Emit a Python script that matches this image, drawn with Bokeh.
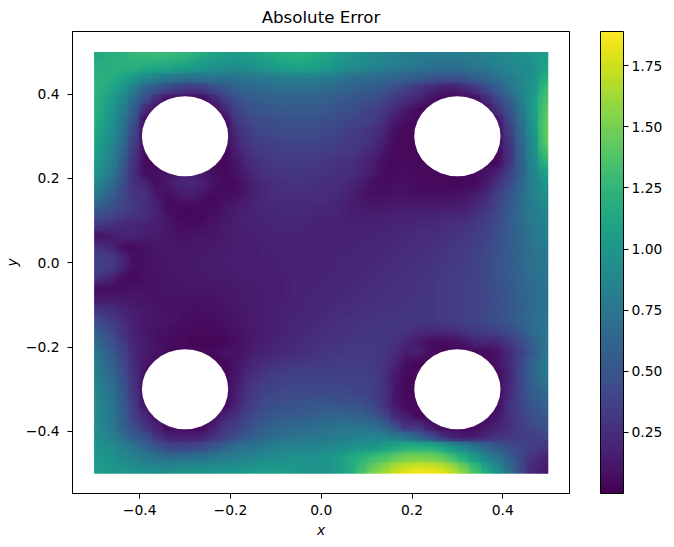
import numpy as np
from bokeh.plotting import figure
from bokeh.models import ColorBar, LinearColorMapper, FixedTicker, Range1d
from bokeh.palettes import Viridis256
from bokeh.embed import file_html
from bokeh.resources import INLINE

F = "DejaVu Sans"
# Absolute error * 100: rows from y=0.4875 to y=-0.4875, columns from x=-0.4875 to x=0.4875
rows = [
[112,118,122,126,128,130,130,128,124,118,112,108,106,108,112,116,120,122,122,118,112,106,100,96,92,90,86,84,82,80,80,80,82,84,86,90,92,95,100,106],
[118,120,120,120,116,114,112,108,104,100,96,94,92,94,98,102,106,108,108,106,102,96,92,88,84,82,78,76,72,70,68,68,70,74,76,82,86,90,94,112],
[122,118,110,100,90,82,76,72,70,70,72,72,72,74,76,78,80,82,82,80,78,74,70,66,66,64,60,58,54,50,46,46,50,56,62,70,78,86,94,122],
[124,112,98,80,60,48,40,34,30,34,42,50,58,62,64,66,68,68,68,68,66,62,60,56,54,50,44,36,30,22,16,14,20,28,40,56,70,84,96,132],
[122,106,88,66,45,22,8,5,5,5,18,34,46,52,56,58,60,60,60,60,58,54,52,48,46,40,30,26,20,10,5,5,5,6,22,40,56,78,100,138],
[120,102,82,56,22,10,5,5,5,5,5,20,38,46,50,52,54,54,54,54,52,48,46,42,38,32,22,12,5,5,5,5,5,5,8,26,46,72,100,142],
[118,98,76,48,8,6,5,5,5,5,5,6,30,40,44,46,48,48,48,48,46,44,40,38,34,26,14,8,5,5,5,5,5,5,5,10,40,68,98,146],
[116,94,72,40,6,5,5,5,5,5,5,5,24,34,40,42,44,44,44,44,42,40,36,32,28,20,8,5,5,5,5,5,5,5,5,6,34,64,94,148],
[112,90,68,36,6,5,5,5,5,5,5,5,20,30,36,38,40,40,40,40,38,36,32,30,26,16,6,5,5,5,5,5,5,5,5,6,28,60,90,146],
[108,86,62,32,6,5,5,5,5,5,5,5,16,26,32,34,36,36,36,36,34,32,30,26,20,12,5,5,5,5,5,5,5,5,5,5,26,58,88,138],
[104,82,56,28,6,5,5,5,5,5,5,5,12,22,28,30,33,33,33,32,30,28,26,22,16,8,5,6,5,5,5,5,5,5,5,6,28,56,84,126],
[100,76,50,24,8,8,10,15,16,12,8,6,10,18,25,28,30,30,30,28,28,26,24,20,14,6,5,8,6,5,5,5,5,6,10,18,34,56,82,112],
[88,68,46,26,20,8,14,20,22,18,10,5,6,14,20,24,26,28,28,26,24,24,20,16,8,6,8,8,6,5,5,5,5,6,14,28,42,60,80,102],
[76,60,42,28,26,12,8,14,16,12,6,8,8,14,20,24,25,25,25,25,24,22,18,12,8,8,10,10,8,8,8,8,10,14,22,34,48,64,82,96],
[62,50,40,32,26,16,6,6,8,6,5,10,14,16,20,22,23,23,23,22,22,20,16,14,12,12,14,14,14,14,14,14,16,20,28,38,52,66,80,90],
[46,40,34,28,24,18,10,5,4,5,8,12,16,18,20,20,22,22,22,20,20,18,16,16,16,16,18,18,18,18,20,20,22,26,34,42,54,66,78,86],
[30,26,22,20,18,16,12,8,6,8,10,14,16,18,18,20,20,20,20,18,18,18,18,18,18,18,20,20,22,22,24,26,28,30,36,44,54,64,76,84],
[8,14,18,18,16,14,12,10,10,12,12,14,16,16,18,18,18,18,18,18,18,18,18,18,20,20,22,22,24,24,26,28,30,34,38,46,54,64,74,82],
[28,20,8,6,10,12,12,12,12,12,14,14,16,16,16,18,18,18,18,18,18,18,18,20,20,22,22,24,24,26,28,30,32,36,40,46,54,62,72,78],
[38,32,20,8,9,11,12,12,13,14,14,15,16,16,16,17,18,18,18,18,18,20,20,20,22,22,24,24,26,28,30,32,34,38,42,48,54,62,70,76],
[38,32,20,8,9,11,12,13,13,14,14,15,15,16,16,16,18,18,18,18,18,20,20,22,22,24,24,26,26,28,30,32,34,38,42,48,54,62,70,76],
[28,18,8,5,8,10,11,12,13,13,14,14,15,15,16,16,16,18,18,18,20,20,22,22,24,24,26,26,28,30,32,34,36,38,42,48,54,60,68,74],
[8,8,8,10,10,10,11,11,12,12,12,13,13,14,15,16,16,18,18,20,20,22,22,24,24,26,26,28,28,30,32,34,36,38,42,46,52,58,66,72],
[14,14,14,12,11,10,10,10,10,10,10,12,13,14,15,16,16,18,20,20,22,22,24,24,26,26,28,28,30,30,32,34,36,38,40,46,52,58,66,72],
[30,26,20,16,13,11,10,9,8,8,9,10,12,14,15,16,18,18,20,22,22,24,24,26,26,28,28,30,30,30,32,34,36,38,42,46,52,58,66,72],
[46,34,24,16,14,12,11,9,7,6,7,9,11,13,15,16,18,20,22,22,24,26,26,28,28,30,30,30,30,30,32,34,36,38,42,46,52,58,68,74],
[58,42,28,18,12,10,8,7,5,5,5,7,10,13,15,16,18,20,22,24,26,26,28,30,30,30,30,28,24,22,22,24,28,32,34,38,44,52,66,78],
[66,48,34,20,14,10,7,5,4,4,4,5,8,12,15,18,20,22,24,26,28,28,30,30,30,30,26,22,14,8,6,8,12,20,22,22,32,42,56,76],
[74,54,38,22,14,10,6,5,5,5,5,10,10,14,17,20,22,24,26,28,30,30,32,32,32,30,24,14,18,8,5,5,5,5,6,10,22,36,52,76],
[78,60,42,24,12,6,5,5,5,5,5,5,10,18,22,26,28,30,30,32,32,34,34,34,32,28,20,8,5,5,5,5,5,5,6,10,22,40,58,80],
[82,64,46,26,8,5,5,5,5,5,5,5,12,22,28,32,34,36,36,36,36,36,36,36,34,28,14,6,5,5,5,5,5,5,5,6,20,40,60,80],
[86,68,50,28,8,5,5,5,5,5,5,5,14,26,32,36,38,40,40,40,40,40,38,38,36,28,12,5,5,5,5,5,5,5,5,6,20,38,58,74],
[88,72,54,30,8,5,5,5,5,5,5,5,16,28,36,40,42,44,44,44,44,44,42,40,36,28,12,5,5,5,5,5,5,5,5,6,22,38,54,66],
[90,74,56,32,10,5,5,5,5,5,5,5,20,32,40,44,48,48,50,52,52,50,50,48,42,30,14,5,5,5,5,5,5,5,5,6,26,38,50,60],
[92,76,58,36,22,5,5,5,5,5,5,18,26,38,46,50,54,54,56,58,60,60,60,58,52,40,22,14,5,5,5,5,5,5,5,12,25,36,46,54],
[92,78,60,44,28,18,5,5,5,5,16,30,34,44,52,58,62,64,66,68,70,72,74,72,68,60,44,26,28,14,5,5,5,6,12,18,25,34,42,48],
[94,82,68,54,46,28,18,16,16,18,26,36,46,54,60,66,70,72,72,74,76,78,80,84,86,84,78,70,60,45,30,18,14,16,22,28,30,34,36,40],
[98,92,84,74,62,50,42,40,40,44,52,60,68,72,76,80,84,86,86,86,88,92,96,98,100,108,115,120,122,120,112,100,88,76,64,54,46,40,34,30],
[102,96,90,84,78,72,68,68,70,72,76,80,82,84,88,92,94,96,96,96,100,106,114,122,130,136,144,150,152,150,146,134,120,104,88,74,58,42,28,18],
[106,102,100,98,96,96,96,98,100,100,100,102,102,104,106,106,106,104,100,96,96,104,118,134,152,164,176,184,188,188,184,174,158,138,118,98,72,46,22,10],
]
hole_x = [-0.3, 0.3, -0.3, 0.3]
hole_y = [0.3, 0.3, -0.3, -0.3]
hole_d = [0.19, 0.19, 0.19, 0.19]
x_ticks = [-0.4, -0.2, 0.0, 0.2, 0.4]
y_ticks = [-0.4, -0.2, 0.0, 0.2, 0.4]
bar_ticks = [0.25, 0.5, 0.75, 1.0, 1.25, 1.5, 1.75]

for j, row in enumerate(rows):
    assert len(row) == 40, (j, len(row))
field = np.array(rows[::-1], dtype=float) / 100
grid_x = -0.4875 + 0.025 * np.arange(40)
grid_x[0], grid_x[-1] = -0.5, 0.5
grid_y = grid_x.copy()

low, high = 0.0, 1.89
mapper = LinearColorMapper(palette=Viridis256, low=low, high=high)
levels = np.linspace(low, high, 129)
fills = [Viridis256[int((a + b) / 2 / high * 255)] for a, b in zip(levels[:-1], levels[1:])]

p = figure(frame_width=497, frame_height=462, output_backend="svg", toolbar_location=None,
           x_range=Range1d(-0.548, 0.547), y_range=Range1d(-0.5475, 0.5487),
           min_border_left=71, min_border_right=83, min_border_top=24, min_border_bottom=45,
           title="Absolute Error", x_axis_label="x", y_axis_label="y")
p.title.align = "center"
p.title.text_font = F
p.title.text_font_size = "16.67px"
p.title.text_font_style = "normal"
p.title.text_color = "black"
p.title.offset = 0
p.grid.visible = False
p.outline_line_color = "black"
p.outline_line_width = 1
for ax, t, ms, ls in ((p.xaxis[0], x_ticks, 6, 4), (p.yaxis[0], y_ticks, 8, 3)):
    ax.ticker = FixedTicker(ticks=t)
    ax.major_label_overrides = {v: ("\u2212" if v < 0 else "") + f"{abs(v):.1f}" for v in t}
    ax.major_label_text_font = F
    ax.major_label_text_font_size = "13.89px"
    ax.major_label_text_color = "black"
    ax.major_label_standoff = ms
    ax.axis_label_standoff = ls
    ax.axis_label_text_font = F
    ax.axis_label_text_font_size = "13.89px"
    ax.axis_label_text_font_style = "italic"
    ax.axis_label_text_color = "black"
    ax.axis_line_color = "black"
    ax.major_tick_line_color = "black"
    ax.major_tick_out = 5
    ax.major_tick_in = 0
    ax.minor_tick_line_color = None
p.yaxis[0].major_label_orientation = "horizontal"

p.image(image=[field], x=-0.5, y=-0.5, dw=1.0, dh=1.0, color_mapper=mapper)
p.contour(grid_x, grid_y, field, levels=levels.tolist(), fill_color=fills, line_color=None)
p.ellipse(hole_x, hole_y, width=hole_d, height=hole_d, fill_color="white", line_color=None)

bar = ColorBar(color_mapper=mapper, width=23, padding=0, margin=0, location=(31, 0),
               ticker=FixedTicker(ticks=bar_ticks), major_label_overrides={v: f"{v:.2f}" for v in bar_ticks},
               major_label_text_font=F, major_label_text_font_size="13.89px", major_label_text_color="black",
               major_tick_line_color="black", major_tick_in=0, major_tick_out=5, label_standoff=3,
               bar_line_color="black", bar_line_width=1, minor_tick_line_color=None,
               border_line_color=None, background_fill_color=None)
p.add_layout(bar, "right")
open("out.html", "w").write(file_html(p, INLINE))
